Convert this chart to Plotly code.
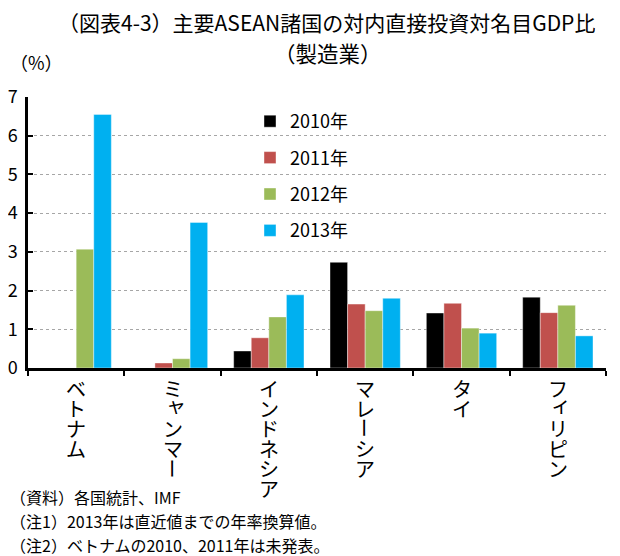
import plotly.graph_objects as go

# data
countries = ['ベトナム', 'ミャンマー', 'インドネシア', 'マレーシア', 'タイ', 'フィリピン']
years = ['2010年', '2011年', '2012年', '2013年']
v2010 = [None, None, 0.44, 2.73, 1.42, 1.83]
v2011 = [None, 0.13, 0.78, 1.65, 1.67, 1.43]
v2012 = [3.07, 0.24, 1.32, 1.48, 1.03, 1.62]
v2013 = [6.55, 3.76, 1.89, 1.80, 0.90, 0.83]
yticks = [0, 1, 2, 3, 4, 5, 6, 7]
notes = ['（資料）各国統計、IMF',
         '（注1）2013年は直近値までの年率換算値。',
         '（注2）ベトナムの2010、2011年は未発表。']

colors = ['#000000', '#C0504D', '#9BBB59', '#00B0F0']
font = 'Noto Sans CJK JP'

# the page body adds an 8px offset, so lay out everything 8px up/left
S = 8
W, H = 620, 556
L, R, T, B = 28 - S, 14 + S, 97 - S, 188 + S
pw = W - L - R
ph = H - T - B


def px_x(x):
    # reference pixel -> paper
    return (x - S - L) / pw


def px_y(y):
    return (H - B - (y - S)) / ph


fig = go.Figure()
for name, vals, c in zip(years, [v2010, v2011, v2012, v2013], colors):
    fig.add_trace(go.Bar(x=countries, y=vals, name=name, legendgroup=name,
                         marker=dict(color=c, line=dict(color='rgba(255,255,255,0.5)', width=0.8))))

fig.update_layout(
    width=W, height=H,
    margin=dict(l=L, r=R, t=T, b=B, autoexpand=False),
    paper_bgcolor='white', plot_bgcolor='white',
    font=dict(family=font, color='#000000'),
    barmode='group', bargap=0.27, bargroupgap=0,
    showlegend=True,
    legend=dict(x=px_x(250), y=px_y(103), xanchor='left', yanchor='top',
                font=dict(size=18), tracegroupgap=10, bgcolor='rgba(0,0,0,0)',
                itemwidth=30),
)

fig.update_yaxes(range=[0, 7], tickvals=yticks, showgrid=True, gridcolor='#a6a6a6',
                 griddash='dot', gridwidth=1, showline=True, linecolor='black',
                 linewidth=2.5, ticks='inside', ticklen=5, tickwidth=2, tickcolor='black',
                 tickfont=dict(size=18), ticklabelstandoff=4, zeroline=False,
                 automargin=False)
fig.update_xaxes(showline=True, linecolor='black', linewidth=2.5, ticks='outside',
                 tickson='boundaries', ticklen=5, tickwidth=2, tickcolor='black',
                 showticklabels=False, range=[-0.5, 5.5], automargin=False)

# vertical category labels, one character per annotation
for cname in countries:
    for j, ch in enumerate(cname):
        ang = 0
        dx, dy = 0, 0
        if ch == 'ー':
            ang = 90
        elif ch in 'ャィ':
            dx, dy = 3, 4
        fig.add_annotation(x=cname, y=0, xref='x', yref='y', text=ch, showarrow=False,
                           xanchor='center', yanchor='middle', textangle=ang,
                           xshift=dx, yshift=-(20 + j * 20) + dy, height=19,
                           font=dict(size=20))

# title lines
fig.add_annotation(x=px_x(326), y=px_y(22), xref='paper', yref='paper', showarrow=False,
                   text='（図表4-3）主要ASEAN諸国の対内直接投資対名目GDP比',
                   xanchor='center', yanchor='middle', height=24, font=dict(size=21))
fig.add_annotation(x=px_x(328), y=px_y(52), xref='paper', yref='paper', showarrow=False,
                   text='（製造業）', xanchor='center', yanchor='middle', font=dict(size=21.5))
fig.add_annotation(x=px_x(8), y=px_y(62), xref='paper', yref='paper', showarrow=False,
                   text='（%）', xanchor='left', yanchor='middle', font=dict(size=18))

for k, t in enumerate(notes):
    fig.add_annotation(x=px_x(8), y=px_y(497 + 24 * k), xref='paper', yref='paper',
                       showarrow=False, text=t, xanchor='left', yanchor='middle',
                       font=dict(size=16))

fig.write_html('out.html')
